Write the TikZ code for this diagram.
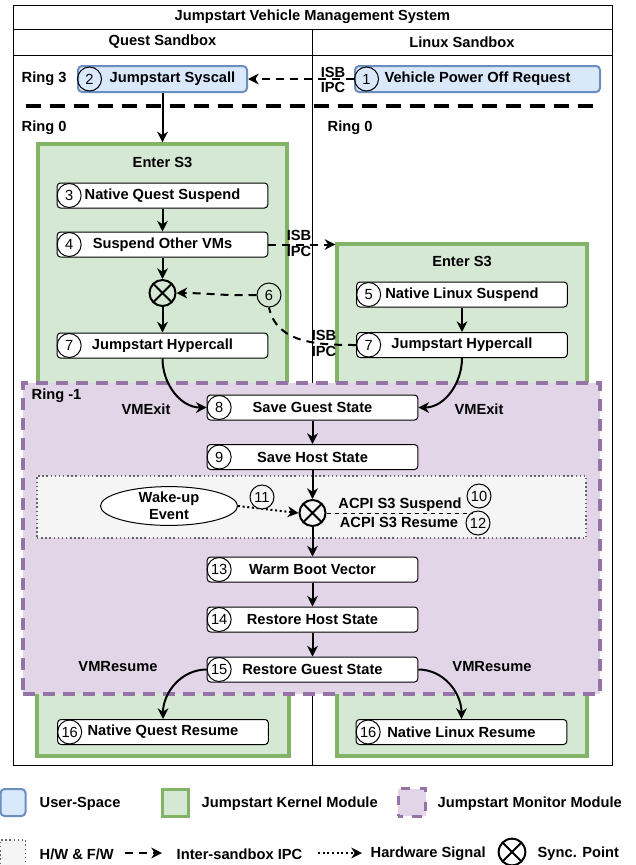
\documentclass[tikz,border=0pt]{standalone}
\usepackage{fontspec}
\setmainfont{Liberation Sans}
\usetikzlibrary{arrows.meta,positioning,shapes.geometric}

\definecolor{userfill}{HTML}{DAE8FC}
\definecolor{userline}{HTML}{6C8EBF}
\definecolor{kernfill}{HTML}{D5E8D4}
\definecolor{kernline}{HTML}{82B366}
\definecolor{monfill}{HTML}{E1D5E7}
\definecolor{monline}{HTML}{9673A6}
\definecolor{hwfill}{HTML}{F5F5F5}
\definecolor{hwline}{HTML}{666666}

\begin{document}
\begin{tikzpicture}[x=0.75pt,y=-0.75pt]
    \tikzset{every node/.style={font=\fontsize{11}{12.5}\selectfont\bfseries},
    stepbox/.style={draw, fill=white, rounded corners=2.5pt
    , minimum width=158pt, minimum height=18.75pt
    , inner sep=0pt, line width=0.75pt
      },
    userbox/.style={draw=userline, fill=userfill, line width=1.5pt
    , rounded corners=3pt, minimum height=19.5pt, inner sep=0pt
      },
    kernel/.style={draw=kernline, fill=kernfill, line width=2.4pt},
    monitor/.style={draw=monline, fill=monfill, line width=2.4pt
    , dash pattern=on 9pt off 6pt
      },
    hwzone/.style={draw=hwline, fill=hwfill, line width=1.1pt, dotted},
    num/.style={draw, circle, minimum size=18pt, inner sep=0pt, line width=0.75pt
    , font=\fontsize{11}{12}\selectfont\mdseries
      },
    sync/.style={draw, circle, minimum size=19.5pt, inner sep=0pt, line width=1.5pt
    , path picture={\draw[line width=1.5pt]
        (path picture bounding box.north west) -- (path picture bounding box.south east)
        (path picture bounding box.north east) -- (path picture bounding box.south west);}
      },
    twoline/.style={align=center, inner sep=0pt
    , font=\fontsize{11}{11.5}\selectfont\bfseries
      },
    flow/.style={-{Stealth[length=8pt,width=8pt,inset=2.5pt]}, line width=1.5pt},
    ipcline/.style={line width=1.5pt, dash pattern=on 6pt off 4.5pt},
    ipc/.style={flow, dash pattern=on 6pt off 4.5pt},
    hwsig/.style={flow, dotted},
    ringsep/.style={line width=2.6pt, dash pattern=on 11pt off 7pt}
    }
\useasboundingbox (0,0) rectangle (636,865);

% frame
\draw[line width=0.75pt] (13,5) rectangle (612,765);
\draw[line width=0.75pt] (13,29) -- (612,29);
\draw[line width=0.75pt] (13,55) -- (612,55);
\draw[line width=0.75pt] (312.5,29) -- (312.5,765);
\node (sysname) at (312.5,17) {Jumpstart Vehicle Management System};
\node (questsb) at (162.5,42) {Quest Sandbox};
\node (linuxsb) at (462,42) {Linux Sandbox};

% ring 3
\node[anchor=west] (ring3) at (17,79) {Ring 3};
\node[userbox, minimum width=126.75pt] (sysc) at (162.5,79) {\hspace{15pt}Jumpstart Syscall};
\node[userbox, minimum width=183.75pt] (veh) at (477.5,79) {Vehicle Power Off Request};
\node[num, anchor=west] (n2) at (sysc.west) {2};
\node[num, anchor=west] (n1) at (veh.west) {1};
\draw[ipc] (veh.west) -- (sysc.east);
\node[twoline] (isb1) at (333,80) {ISB\\IPC};

\draw[ringsep] (26,106) -- (596,106);
\node[anchor=west] (ring0q) at (17,128) {Ring 0};
\node[anchor=west] (ring0l) at (323,128) {Ring 0};

% kernel modules
\node[kernel, minimum width=186.75pt, minimum height=184.5pt] (qsusp) at (162.5,267) {};
\node[kernel, minimum width=187.5pt, minimum height=109.5pt] (lsusp) at (462,317) {};
\node[kernel, minimum width=189pt, minimum height=49.5pt] (qres) at (163,723) {};
\node[kernel, minimum width=187.5pt, minimum height=49.5pt] (lres) at (462,723) {};
\node (qenter) at (162.5,162) {Enter S3};
\node (lenter) at (462,261) {Enter S3};

% monitor module
\node[monitor, minimum width=432.75pt, minimum height=233.25pt] (mon) at (311.5,538.5) {};
\node[anchor=west] (ring1) at (27,396) {Ring -1};
\node[hwzone, minimum width=411.75pt, minimum height=46.5pt] (hw) at (311.5,507) {};

% steps
\node[stepbox] (b3) at (162.5,195.5) {Native Quest Suspend};
\node[stepbox] (b4) at (162.5,244.5) {Suspend Other VMs};
\node[sync] (sync1) at (162.5,293) {};
\node[stepbox] (b7) at (162.5,345.5) {Jumpstart Hypercall};
\node[stepbox] (b5) at (462,294.5) {Native Linux Suspend};
\node[stepbox] (b7r) at (462,345) {Jumpstart Hypercall};
\node[stepbox] (b8) at (312.5,407.5) {Save Guest State};
\node[stepbox] (b9) at (312.5,457) {Save Host State};
\node[sync] (sync2) at (312.5,513) {};
\node[stepbox] (b13) at (312.5,569.5) {Warm Boot Vector};
\node[stepbox] (b14) at (312.5,619.5) {Restore Host State};
\node[stepbox] (b15) at (312.5,669.5) {Restore Guest State};
\node[stepbox] (b16l) at (163,732) {Native Quest Resume};
\node[stepbox] (b16r) at (461.5,732) {Native Linux Resume};
\foreach \b/\n in {b3/3,b4/4,b7/7,b5/5,b7r/7,b8/8,b9/9,b13/13,b14/14,b15/15,b16l/16,b16r/16}
  \node[num, anchor=west] (n\b) at (\b.west) {\n};

\node[draw, ellipse, fill=white, line width=0.75pt, minimum width=102.75pt
  , minimum height=27.75pt, inner sep=0pt, align=center] (wake) at (169,506) {Wake-up\\Event};

% flow
\draw[flow] (sysc.south) -- (qsusp.north);
\draw[flow] (b3) -- (b4);
\draw[flow] (b4) -- (sync1);
\draw[flow] (sync1) -- (b7);
\draw[flow] (b5) -- (b7r);
\draw[ipc] (b4.east) -- (b4.east -| lsusp.west);
\node[twoline] (isb2) at (299,243.5) {ISB\\IPC};
\node[num] (n6) at (269,295) {6};
\draw[ipcline] (b7r.west) to[out=180,in=-78] (n6.south);
\draw[ipc] (n6.west) to[out=182,in=0] (sync1.east);
\node[twoline] (isb3) at (324,343.5) {ISB\\IPC};

\draw[flow] (b7.south) to[out=-90,in=180] (b8.west);
\draw[flow] (b7r.south) to[out=-90,in=0] (b8.east);
\node (exitq) at (146,409) {VMExit};
\node (exitl) at (479,409) {VMExit};
\draw[flow] (b8) -- (b9);
\draw[flow] (b9) -- (sync2);
\draw[flow] (sync2) -- (b13);
\draw[flow] (b13) -- (b14);
\draw[flow] (b14) -- (b15);

\draw[hwsig] (wake.east) -- (sync2.west);
\node[num, fill=hwfill] (n11) at (262,497) {11};
\coordinate (acpiend) at (473,513);
\draw[dashed, line width=0.75pt] (sync2.east) -- (acpiend);
\node (acpis) at (400,505) {ACPI S3 Suspend};
\node (acpir) at (399,522) {ACPI S3 Resume};
\node[num] (n10) at (479,496) {10};
\node[num] (n12) at (478,523) {12};

\draw[flow] (b15.west) to[out=180,in=90] (b16l.north);
\draw[flow] (b15.east) to[out=0,in=90] (b16r.north);
\node (resq) at (118,667) {VMResume};
\node (resl) at (492,667) {VMResume};

% legend
\node[userbox, minimum width=18.75pt, minimum height=20.25pt] (lguser) at (13,802.5) {};
\node[anchor=west] (lgusertxt) at (35,804) {User-Space};
\node[kernel, minimum width=20pt, minimum height=20.5pt] (lgkern) at (175.5,803) {};
\node[anchor=west] (lgkerntxt) at (197,804) {Jumpstart Kernel Module};
\node[monitor, minimum width=20.5pt, minimum height=20.5pt, dash pattern=on 7pt off 7pt
  , dash phase=3.5pt] (lgmon) at (412,802.5) {};
\node[anchor=west] (lgmontxt) at (433,804) {Jumpstart Monitor Module};
\node[hwzone, minimum width=19pt, minimum height=19.5pt] (lghw) at (13,853) {};
\node[anchor=west] (lghwtxt) at (35,854) {H/W \& F/W};
\coordinate (ipcA) at (125,853);
\coordinate (ipcB) at (162,853);
\draw[ipc] (ipcA) -- (ipcB);
\node[anchor=west] (lgipctxt) at (172,854) {Inter-sandbox IPC};
\coordinate (sigA) at (318,853);
\coordinate (sigB) at (362,853);
\draw[hwsig] (sigA) -- (sigB);
\node[anchor=west] (lgsigtxt) at (366,854) {Hardware Signal};
\node[sync, minimum size=20pt] (lgsync) at (512,852) {};
\node[anchor=west] (lgsynctxt) at (533,854) {Sync. Point};
\end{tikzpicture}
\end{document}
